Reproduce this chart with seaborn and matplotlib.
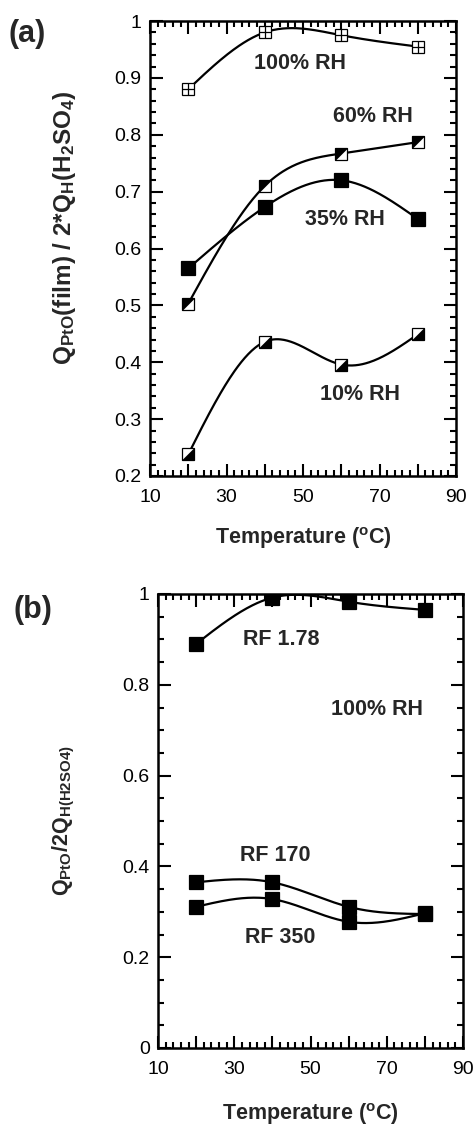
import numpy as np
import pandas as pd
import matplotlib
matplotlib.use("Agg")
import matplotlib.pyplot as plt
import seaborn as sns
from matplotlib.ticker import MultipleLocator, FuncFormatter

sns.set_style("ticks")
plt.rcParams['font.family'] = ['Liberation Sans', 'DejaVu Sans']
plt.rcParams['mathtext.fontset'] = 'custom'
plt.rcParams['mathtext.rm'] = 'Liberation Sans'
plt.rcParams['mathtext.bf'] = 'Liberation Sans:bold'
plt.rcParams['mathtext.it'] = 'Liberation Sans:italic'

# ---------------- data ----------------
temperature = [20, 40, 60, 80]

# panel (a)
rh100 = [0.880, 0.980, 0.975, 0.955]
rh60 = [0.503, 0.710, 0.767, 0.787]
rh35 = [0.565, 0.673, 0.720, 0.652]
rh10 = [0.238, 0.436, 0.396, 0.449]

# panel (b)
rf178 = [0.890, 0.992, 0.983, 0.965]
rf170 = [0.365, 0.365, 0.311, 0.295]
rf350 = [0.311, 0.328, 0.278, 0.297]

xticks = [10, 30, 50, 70, 90]


def natural_spline(x, y, n=200):
    x = np.asarray(x, float)
    y = np.asarray(y, float)
    k = len(x)
    h = np.diff(x)
    A = np.zeros((k, k))
    b = np.zeros(k)
    A[0, 0] = 1
    A[-1, -1] = 1
    for i in range(1, k - 1):
        A[i, i - 1] = h[i - 1]
        A[i, i] = 2 * (h[i - 1] + h[i])
        A[i, i + 1] = h[i]
        b[i] = 6 * ((y[i + 1] - y[i]) / h[i] - (y[i] - y[i - 1]) / h[i - 1])
    M = np.linalg.solve(A, b)
    xs = np.linspace(x[0], x[-1], n)
    ys = np.empty_like(xs)
    for j, xv in enumerate(xs):
        i = min(np.searchsorted(x, xv, side='right') - 1, k - 2)
        t1 = x[i + 1] - xv
        t0 = xv - x[i]
        ys[j] = (M[i] * t1 ** 3 / (6 * h[i]) + M[i + 1] * t0 ** 3 / (6 * h[i])
                 + (y[i] / h[i] - M[i] * h[i] / 6) * t1
                 + (y[i + 1] / h[i] - M[i + 1] * h[i] / 6) * t0)
    return pd.DataFrame({'x': xs, 'y': ys})


UL = [(-1, -1), (-1, 1), (1, 1), (-1, -1)]
LR = [(-1, -1), (1, -1), (1, 1), (-1, -1)]

fig = plt.figure(figsize=(4.75, 11.25), dpi=100)
axa = fig.add_axes([150 / 475, 1 - 476 / 1125, 306 / 475, 455 / 1125])
axb = fig.add_axes([158 / 475, 1 - 1048 / 1125, 305 / 475, 454 / 1125])

LW = 1.6


def curve(ax, ys):
    df = natural_spline(temperature, ys)
    sns.lineplot(data=df, x='x', y='y', ax=ax, color='black', lw=LW,
                 sort=False, estimator=None, zorder=2)


ms_a = 8.5
# 100% RH: square with cross
curve(axa, rh100)
axa.plot(temperature, rh100, ls='none', marker='s', ms=ms_a, mfc='white',
         mec='black', mew=0.9, zorder=3)
axa.plot(temperature, rh100, ls='none', marker='+', ms=ms_a, mec='black',
         mew=0.9, zorder=4)
# 60% RH: upper-left half filled
curve(axa, rh60)
axa.plot(temperature, rh60, ls='none', marker='s', ms=ms_a, mfc='white',
         mec='black', mew=0.9, zorder=3)
axa.plot(temperature, rh60, ls='none', marker=UL, ms=ms_a, mfc='black',
         mec='black', mew=0.5, zorder=4)
# 35% RH: filled
curve(axa, rh35)
axa.plot(temperature, rh35, ls='none', marker='s', ms=ms_a + 1.5, mfc='black',
         mec='black', mew=0.9, zorder=3)
# 10% RH: lower-right half filled
curve(axa, rh10)
axa.plot(temperature, rh10, ls='none', marker='s', ms=ms_a, mfc='white',
         mec='black', mew=0.9, zorder=3)
axa.plot(temperature, rh10, ls='none', marker=LR, ms=ms_a, mfc='black',
         mec='black', mew=0.5, zorder=4)

ms_b = 9.5
for ys in (rf178, rf170, rf350):
    curve(axb, ys)
    axb.plot(temperature, ys, ls='none', marker='s', ms=ms_b, mfc='black',
             mec='black', mew=0.9, zorder=3)

# text labels
tkw = dict(fontsize=15.5, fontweight='bold', ha='center', va='center')
axa.text(49.2, 0.926, '100% RH', **tkw)
axa.text(68.3, 0.832, '60% RH', **tkw)
axa.text(61.0, 0.651, '35% RH', **tkw)
axa.text(64.9, 0.344, '10% RH', **tkw)

axb.text(42.3, 0.900, 'RF 1.78', **tkw)
axb.text(67.4, 0.745, '100% RH', **tkw)
axb.text(40.7, 0.425, 'RF 170', **tkw)
axb.text(42.0, 0.243, 'RF 350', **tkw)

fig.text(27 / 475, 1 - 34 / 1125, '(a)', fontsize=22, fontweight='bold',
         ha='center', va='center')
fig.text(33 / 475, 1 - 610 / 1125, '(b)', fontsize=22, fontweight='bold',
         ha='center', va='center')


def xfmt(v, pos):
    iv = int(round(v))
    return str(iv) if iv in xticks else ''


for ax, lp in ((axa, 14), (axb, 17)):
    ax.set_xlim(10, 90)
    ax.xaxis.set_major_locator(MultipleLocator(10))
    ax.xaxis.set_minor_locator(MultipleLocator(2))
    ax.xaxis.set_major_formatter(FuncFormatter(xfmt))
    ax.tick_params(which='both', direction='in', top=True, right=True,
                   width=1.5, labelsize=14, colors='black')
    ax.tick_params(which='major', length=9)
    ax.tick_params(axis='x', which='major', pad=9)
    ax.tick_params(axis='y', which='major', pad=6)
    ax.tick_params(which='minor', length=4.3)
    for s in ax.spines.values():
        s.set_linewidth(1.8)
        s.set_color('black')
    ax.set_xlabel(r'Temperature ($\mathbf{^o}$C)', fontsize=15.5,
                  fontweight='bold', labelpad=lp)


def yfmt(v, pos):
    if abs(v - round(v)) < 1e-9:
        return str(int(round(v)))
    return '%.1f' % v


axa.set_ylim(0.2, 1.0)
axa.yaxis.set_major_locator(MultipleLocator(0.1))
axa.yaxis.set_minor_locator(MultipleLocator(0.02))
axa.yaxis.set_major_formatter(FuncFormatter(yfmt))
axa.set_ylabel(r'$\mathbf{Q_{PtO}(film)\ /\ 2{*}Q_H(H_2SO_4)}$', fontsize=17.5)
axa.yaxis.set_label_coords(-0.235, 0.545)

axb.set_ylim(0, 1.0)
axb.yaxis.set_major_locator(MultipleLocator(0.2))
axb.yaxis.set_minor_locator(MultipleLocator(0.05))
axb.yaxis.set_major_formatter(FuncFormatter(yfmt))
axb.set_ylabel(r'$\mathbf{Q_{PtO}/2Q_{H(H2SO4)}}$', fontsize=15.5)
axb.yaxis.set_label_coords(-0.265, 0.5)

fig.savefig('out.png', dpi=100)
